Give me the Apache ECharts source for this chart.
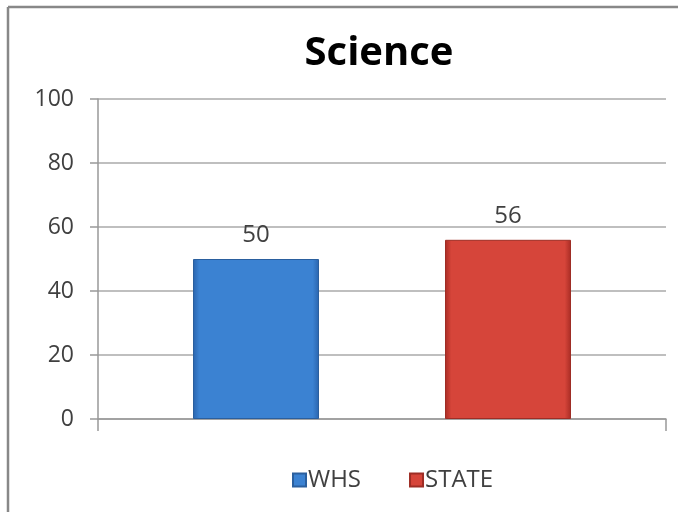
<!DOCTYPE html>
<html>
<head>
<meta charset="utf-8">
<script src="https://cdn.jsdelivr.net/npm/echarts@6/dist/echarts.min.js"></script>
<style>
html,body{margin:0;padding:0;background:#fff;}
#chart{width:678px;height:512px;}
</style>
</head>
<body>
<div id="chart"></div>
<script>
const titleText = 'Science';
const categories = [''];
const seriesNames = ['WHS', 'STATE'];
const whsValues = [50];
const stateValues = [56];
const yTicks = [0, 20, 40, 60, 80, 100];

const chart = echarts.init(document.getElementById('chart'));

function bevel(edge, mid) {
  return new echarts.graphic.LinearGradient(0, 0, 1, 0, [
    {offset: 0, color: edge},
    {offset: 0.05, color: mid},
    {offset: 0.95, color: mid},
    {offset: 1, color: edge}
  ]);
}

const labelStyle = {show: true, position: 'top', distance: 12, fontFamily: 'Open Sans', fontSize: 24, color: '#404040'};

chart.setOption({
  backgroundColor: '#ffffff',
  animation: false,
  title: {
    text: titleText,
    left: 374,
    textAlign: 'center',
    top: 29,
    textStyle: {fontFamily: 'Open Sans', fontWeight: 'bold', fontSize: 40, color: '#000000'}
  },
  grid: {left: 98, right: 12, top: 99, bottom: 93},
  legend: {
    data: seriesNames,
    left: 287,
    top: 463,
    itemWidth: 13,
    itemHeight: 13,
    itemGap: 48,
    icon: 'rect',
    textStyle: {fontFamily: 'Open Sans', fontSize: 24, color: '#404040', padding: [0, 0, 0, -3]}
  },
  xAxis: {
    type: 'category',
    data: categories,
    axisLine: {show: true, lineStyle: {color: '#999999', width: 1.5}},
    axisTick: {show: true, length: 12, lineStyle: {color: '#999999', width: 1.5}},
    axisLabel: {show: false},
    splitLine: {show: false}
  },
  yAxis: {
    type: 'value',
    min: yTicks[0],
    max: yTicks[yTicks.length - 1],
    interval: yTicks[1] - yTicks[0],
    axisLine: {show: true, lineStyle: {color: '#999999', width: 1.5}},
    axisTick: {show: true, length: 8, lineStyle: {color: '#999999', width: 1.5}},
    axisLabel: {fontFamily: 'Open Sans', fontSize: 23, color: '#404040', margin: 24},
    splitLine: {show: true, lineStyle: {color: '#aaaaaa', width: 1.5}}
  },
  series: [
    {
      name: seriesNames[0],
      type: 'bar',
      data: whsValues,
      barWidth: 126,
      barGap: '100%',
      itemStyle: {color: bevel('#2a64ad', '#3b82d2'), borderColor: '#2a5f9e', borderWidth: 1},
      label: labelStyle
    },
    {
      name: seriesNames[1],
      type: 'bar',
      data: stateValues,
      barWidth: 126,
      barGap: '100%',
      itemStyle: {color: bevel('#a82c24', '#d6453a'), borderColor: '#9e2d25', borderWidth: 1},
      label: labelStyle
    }
  ],
  graphic: [
    {type: 'line', shape: {x1: 8, y1: 7, x2: 678, y2: 7}, style: {stroke: '#888888', lineWidth: 2.5}, silent: true},
    {type: 'line', shape: {x1: 8, y1: 7, x2: 8, y2: 512}, style: {stroke: '#888888', lineWidth: 2.5}, silent: true}
  ]
});
</script>
</body>
</html>
